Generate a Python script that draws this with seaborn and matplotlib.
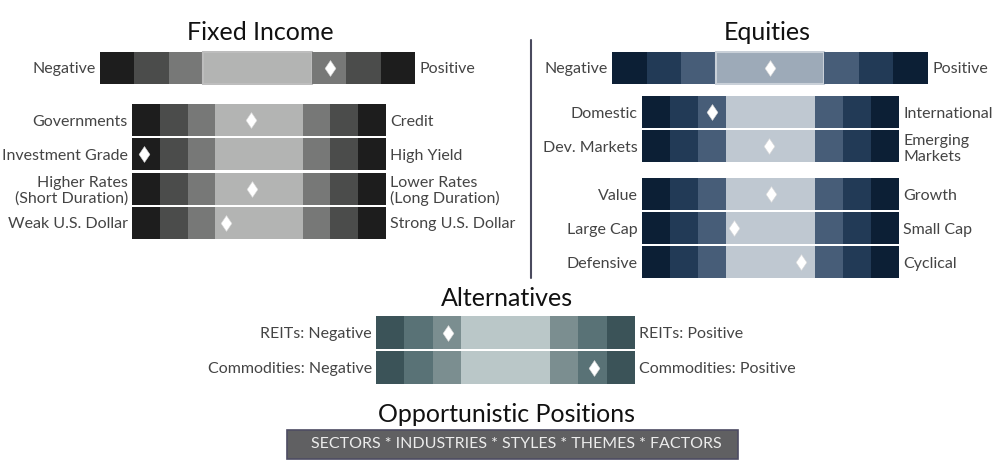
import numpy as np
import pandas as pd
import seaborn as sns
import matplotlib.pyplot as plt
from matplotlib.patches import Rectangle
from matplotlib.lines import Line2D

# Escala de cada barra: 3 passos negativos, faixa neutra larga, 3 passos positivos
seg_widths = [1, 1, 1, 3.15, 1, 1, 1]

# Dados (posição do losango em unidades da escala, 0 = centro)
fi_top_left = ["Negative"]
fi_top_right = ["Positive"]
fi_top_score = [2.1]

fi_left = ["Governments", "Investment Grade", "Higher Rates\n(Short Duration)", "Weak U.S. Dollar"]
fi_right = ["Credit", "High Yield", "Lower Rates\n(Long Duration)", "Strong U.S. Dollar"]
fi_score = [-0.29, -4.14, -0.25, -1.19]

eq_top_left = ["Negative"]
eq_top_right = ["Positive"]
eq_top_score = [0.0]

eq_a_left = ["Domestic", "Dev. Markets"]
eq_a_right = ["International", "Emerging\nMarkets"]
eq_a_score = [-2.09, -0.04]

eq_b_left = ["Value", "Large Cap", "Defensive"]
eq_b_right = ["Growth", "Small Cap", "Cyclical"]
eq_b_score = [0.02, -1.29, 1.07]

alt_left = ["REITs: Negative", "Commodities: Negative"]
alt_right = ["REITs: Positive", "Commodities: Positive"]
alt_score = [-2.03, 3.13]

opp_items = ["SECTORS", "INDUSTRIES", "STYLES", "THEMES", "FACTORS"]

# Cores
fi_cols = ["#1d1d1d", "#4b4c4b", "#777877", "#b3b4b3"]
eq_top_cols = ["#0c1f35", "#223a56", "#475d78", "#9daab8"]
eq_cols = ["#0c1f35", "#223a56", "#475d78", "#bfc8d1"]
alt_cols = ["#3b5358", "#597276", "#7b8e90", "#bac7c8"]

sns.set_theme(style="white")
plt.rcParams["font.family"] = ["Lato", "DejaVu Sans"]

W, H = 1000, 470
fig = plt.figure(figsize=(10, 4.7), dpi=100)
fig.patch.set_facecolor("white")

LABEL_COLOR = "#444444"
LABEL_SIZE = 11.5
diamond = [(0, 1), (0.68, 0), (0, -1), (-0.68, 0), (0, 1)]


def px_axes(x0, x1, y0, y1):
    return fig.add_axes([x0 / W, 1 - y1 / H, (x1 - x0) / W, (y1 - y0) / H])


def draw_group(x0, x1, y0, y1, left, right, scores, cols, mid_edge=None):
    ax = px_axes(x0, x1, y0, y1)
    n = len(left)
    rows = np.arange(n)
    palette = [cols[0], cols[1], cols[2], cols[3], cols[2], cols[1], cols[0]]
    start = -sum(seg_widths) / 2
    for w, c in zip(seg_widths, palette):
        is_mid = mid_edge is not None and c == cols[3]
        ax.barh(rows, w, left=start, height=0.94, color=c,
                edgecolor=mid_edge if is_mid else "none",
                linewidth=1.5 if is_mid else 0, zorder=1)
        start += w
    df = pd.DataFrame({"score": scores, "row": rows})
    sns.scatterplot(data=df, x="score", y="row", marker=diamond, s=130,
                    color="white", edgecolor="#d8d8d8", linewidth=0.4,
                    ax=ax, zorder=3, legend=False)
    ax.set_xlim(-sum(seg_widths) / 2, sum(seg_widths) / 2)
    ax.set_ylim(n - 0.5, -0.5)
    ax.set_yticks(rows, left)
    ax.tick_params(axis="y", length=0, pad=3, labelsize=LABEL_SIZE,
                   labelcolor=LABEL_COLOR)
    ax.set_xticks([])
    ax.set_xlabel("")
    ax.set_ylabel("")
    ax2 = ax.twinx()
    ax2.set_ylim(n - 0.5, -0.5)
    ax2.set_yticks(rows, right)
    ax2.tick_params(axis="y", length=0, pad=3, labelsize=LABEL_SIZE,
                    labelcolor=LABEL_COLOR)
    for a in (ax, ax2):
        for s in a.spines.values():
            s.set_visible(False)
        a.grid(False)
        for t in a.get_yticklabels():
            t.set_linespacing(1.15)
    for t in ax2.get_yticklabels():
        t.set_horizontalalignment("left")
    return ax


# Fixed Income
draw_group(100, 415, 50.5, 85, fi_top_left, fi_top_right, fi_top_score, fi_cols, mid_edge="#bdbdbd")
draw_group(132, 386, 103, 240, fi_left, fi_right, fi_score, fi_cols)

# Equities
draw_group(612, 928, 50.5, 85, eq_top_left, eq_top_right, eq_top_score, eq_top_cols, mid_edge="#c9d0d8")
draw_group(642, 899, 95, 163.5, eq_a_left, eq_a_right, eq_a_score, eq_cols)
draw_group(642, 899, 177, 279.5, eq_b_left, eq_b_right, eq_b_score, eq_cols)

# Alternatives
draw_group(376, 635, 315, 385, alt_left, alt_right, alt_score, alt_cols)

# Títulos
title_kw = dict(fontsize=18, color="#111111", ha="center", va="center")
fig.text(260 / W, 1 - 33 / H, "Fixed Income", **title_kw)
fig.text(767 / W, 1 - 32 / H, "Equities", **title_kw)
fig.text(507 / W, 1 - 298 / H, "Alternatives", **title_kw)
fig.text(507 / W, 1 - 415 / H, "Opportunistic Positions", **title_kw)

# Linha divisória
fig.add_artist(Line2D([531 / W, 531 / W], [1 - 40 / H, 1 - 278 / H],
                      color="#4a4a5e", lw=1.5))

# Caixa de posições oportunísticas
fig.add_artist(Rectangle((287 / W, 1 - 459 / H), (738 - 287) / W, 29 / H,
                         facecolor="#606062", edgecolor="#4d4c62", lw=1.2))
fig.text(516 / W, 1 - 444.5 / H, " * ".join(opp_items), fontsize=11.5,
         color="#ececec", ha="center", va="center")

plt.savefig("out.png", dpi=100)
